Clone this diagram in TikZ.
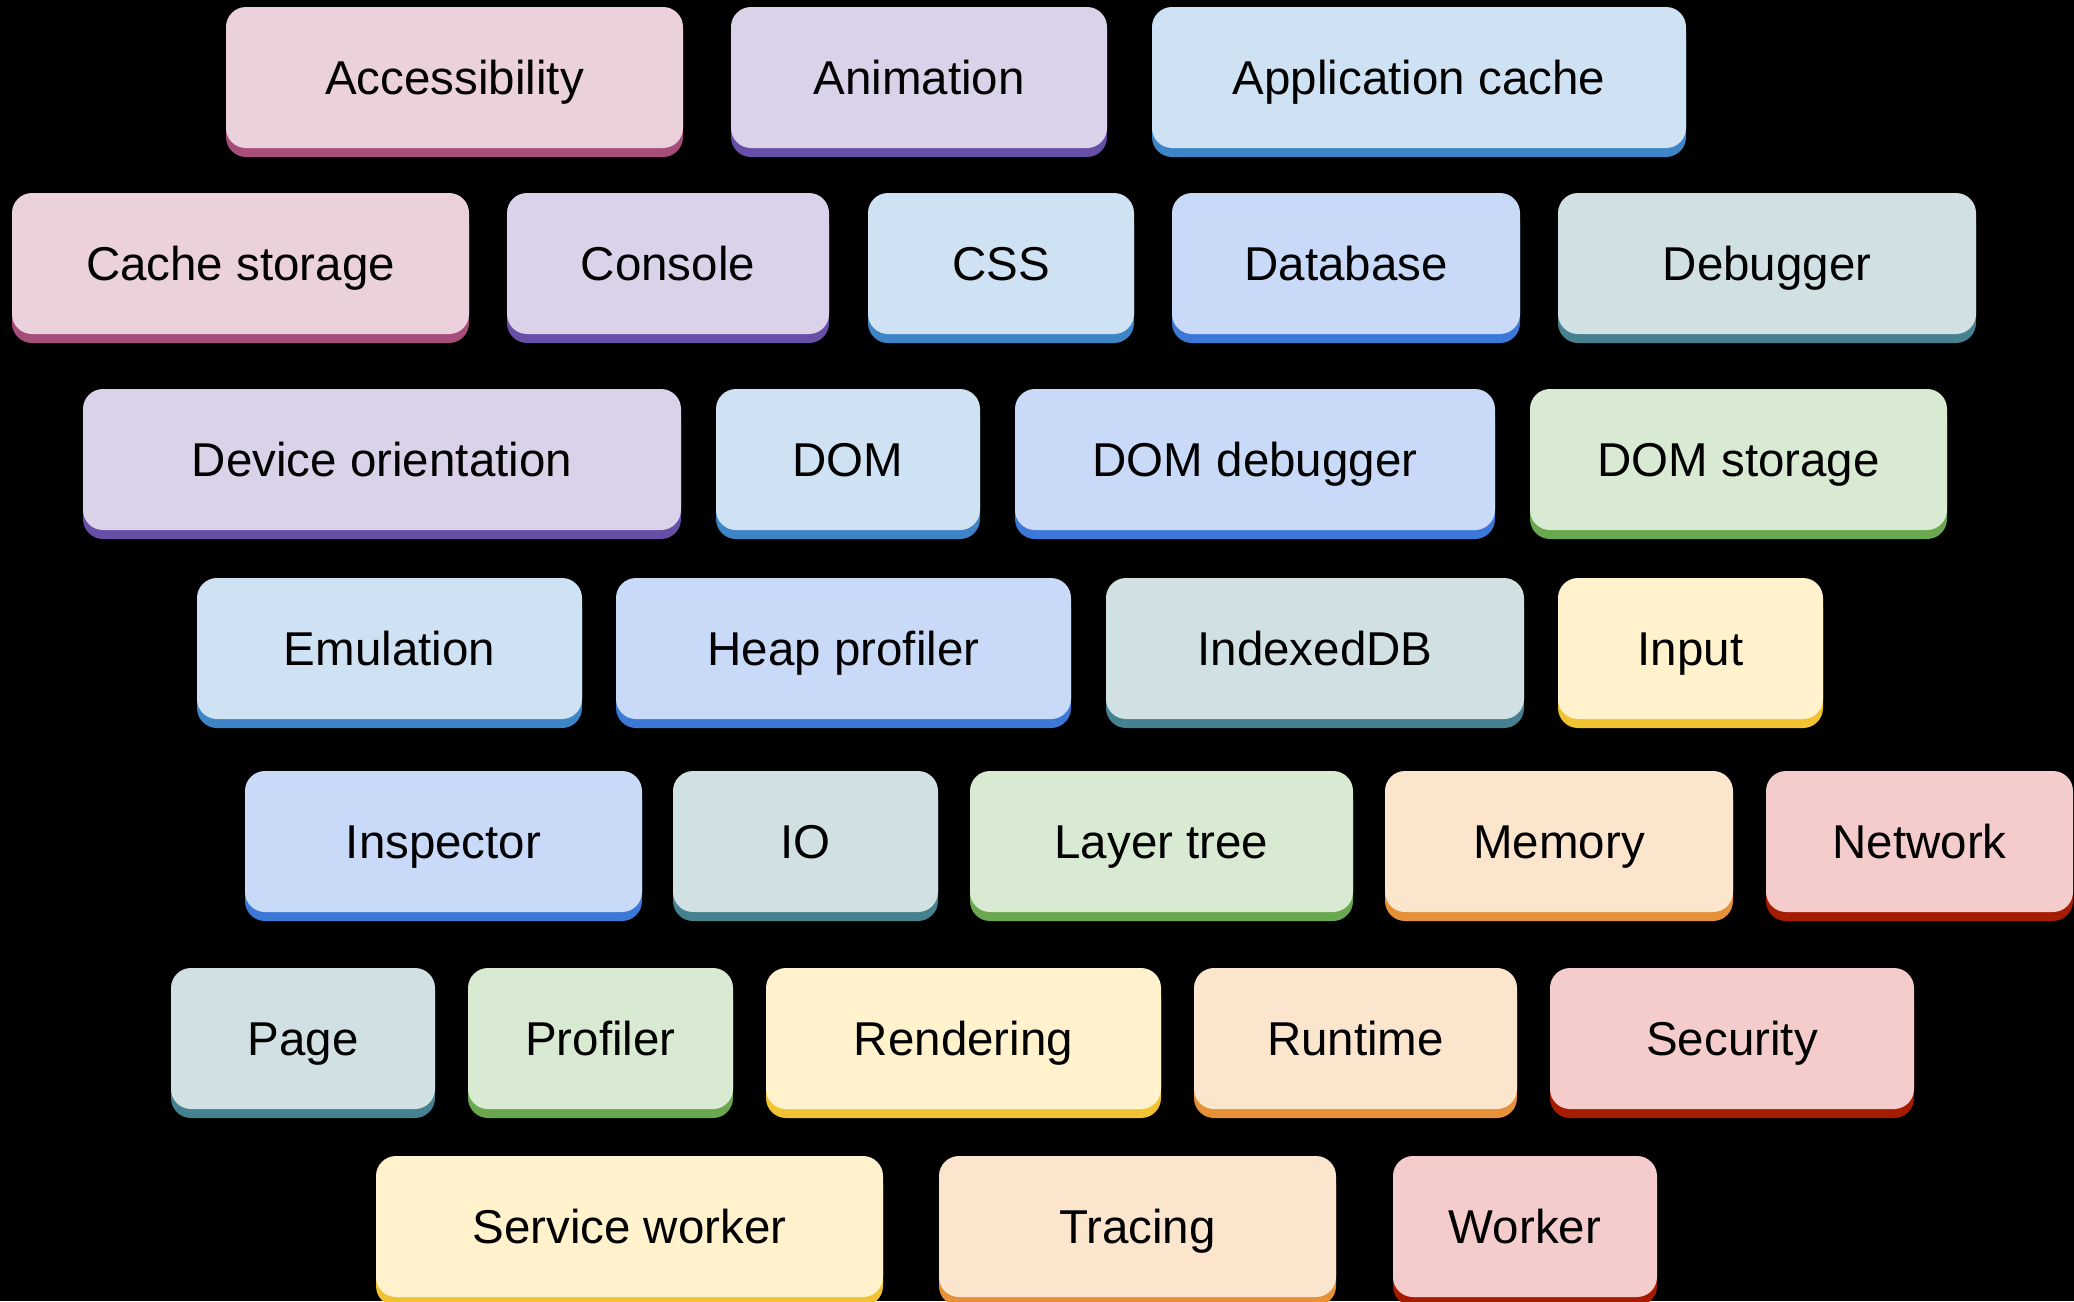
\documentclass[tikz,border=0pt]{standalone}
\usepackage{fontspec}
\setmainfont{Liberation Sans}
\usetikzlibrary{shadows}
\definecolor{pinkF}{HTML}{EAD1DC}\definecolor{pinkS}{HTML}{A64D79}
\definecolor{purpF}{HTML}{D9D2E9}\definecolor{purpS}{HTML}{674EA7}
\definecolor{lblueF}{HTML}{CFE2F3}\definecolor{lblueS}{HTML}{3D85C6}
\definecolor{blueF}{HTML}{C9DAF8}\definecolor{blueS}{HTML}{3C78D8}
\definecolor{tealF}{HTML}{D0E0E3}\definecolor{tealS}{HTML}{45818E}
\definecolor{greenF}{HTML}{D9EAD3}\definecolor{greenS}{HTML}{6AA84F}
\definecolor{yellF}{HTML}{FFF2CC}\definecolor{yellS}{HTML}{F1C232}
\definecolor{oranF}{HTML}{FCE5CD}\definecolor{oranS}{HTML}{E69138}
\definecolor{redF}{HTML}{F4CCCC}\definecolor{redS}{HTML}{A61C00}
\tikzset{
  box/.style={rounded corners=20pt, minimum height=141pt, inner sep=0pt,
    text height=34.5pt, text depth=0pt, font=\fontsize{47.5}{57}\selectfont, text=black},
  mk/.style 2 args={box, fill=#1, drop shadow={shadow xshift=0pt, shadow yshift=-9pt, fill=#2, opacity=1}},
  pinkbox/.style={mk={pinkF}{pinkS}},
  purpbox/.style={mk={purpF}{purpS}},
  lbluebox/.style={mk={lblueF}{lblueS}},
  bluebox/.style={mk={blueF}{blueS}},
  tealbox/.style={mk={tealF}{tealS}},
  greenbox/.style={mk={greenF}{greenS}},
  yellbox/.style={mk={yellF}{yellS}},
  oranbox/.style={mk={oranF}{oranS}},
  redbox/.style={mk={redF}{redS}},
}
\newcommand\bx[6]{\node[#6, minimum width={(#4-#2)*1pt}] (#1) at ({(#2+#4)/2},{#3+70.5}) {#5};}
\begin{document}
\begin{tikzpicture}[x=1pt,y=-1pt]
\fill[black] (0,0) rectangle (2074,1301);
\useasboundingbox (0,0) rectangle (2074,1301);
% row 1
\bx{acc}{226}{7}{683}{Accessibility}{pinkbox}
\bx{anim}{731}{7}{1107}{Animation}{purpbox}
\bx{appc}{1152}{7}{1686}{Application cache}{lbluebox}
% row 2
\bx{cache}{12}{193}{469}{Cache storage}{pinkbox}
\bx{console}{507}{193}{829}{Console}{purpbox}
\bx{css}{868}{193}{1134}{CSS}{lbluebox}
\bx{db}{1172}{193}{1520}{Database}{bluebox}
\bx{dbg}{1558}{193}{1976}{Debugger}{tealbox}
% row 3
\bx{devo}{83}{389}{681}{Device orientation}{purpbox}
\bx{dom}{716}{389}{980}{DOM}{lbluebox}
\bx{domdbg}{1015}{389}{1495}{DOM debugger}{bluebox}
\bx{domst}{1530}{389}{1947}{DOM storage}{greenbox}
% row 4
\bx{emu}{197}{578}{582}{Emulation}{lbluebox}
\bx{heap}{616}{578}{1071}{Heap profiler}{bluebox}
\bx{idb}{1106}{578}{1524}{IndexedDB}{tealbox}
\bx{input}{1558}{578}{1823}{Input}{yellbox}
% row 5
\bx{insp}{245}{771}{642}{Inspector}{bluebox}
\bx{io}{673}{771}{938}{IO}{tealbox}
\bx{layer}{970}{771}{1353}{Layer tree}{greenbox}
\bx{mem}{1385}{771}{1733}{Memory}{oranbox}
\bx{net}{1766}{771}{2073}{Network}{redbox}
% row 6
\bx{page}{171}{968}{435}{Page}{tealbox}
\bx{prof}{468}{968}{733}{Profiler}{greenbox}
\bx{rend}{766}{968}{1161}{Rendering}{yellbox}
\bx{rt}{1194}{968}{1517}{Runtime}{oranbox}
\bx{sec}{1550}{968}{1914}{Security}{redbox}
% row 7
\bx{sw}{376}{1156}{883}{Service worker}{yellbox}
\bx{trace}{939}{1156}{1336}{Tracing}{oranbox}
\bx{worker}{1393}{1156}{1657}{Worker}{redbox}
\end{tikzpicture}
\end{document}
